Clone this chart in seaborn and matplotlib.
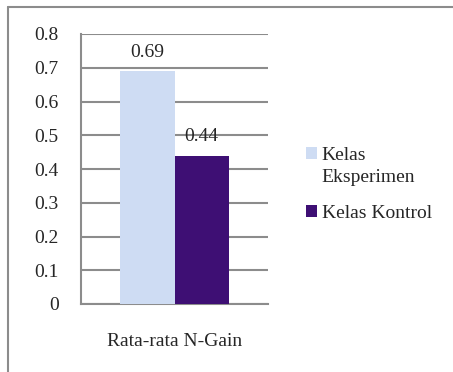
import pandas as pd
import seaborn as sns
import matplotlib.pyplot as plt
from matplotlib.lines import Line2D
from matplotlib.patches import Patch

# data
kategori = ["Rata-rata N-Gain", "Rata-rata N-Gain"]
kelas = ["Kelas Eksperimen", "Kelas Kontrol"]
nilai = [0.69, 0.44]
warna = ["#cedcf3", "#3e0f74"]
yticks = [0, 0.1, 0.2, 0.3, 0.4, 0.5, 0.6, 0.7, 0.8]

df = pd.DataFrame({"kategori": kategori, "kelas": kelas, "nilai": nilai})

sns.set_style("white")
plt.rcParams["font.family"] = ["Liberation Serif", "DejaVu Serif"]
plt.rcParams["font.size"] = 14

fig = plt.figure(figsize=(4.53, 3.72), dpi=100)
W, H = 453, 372
ax = fig.add_axes([81 / W, 1 - 304 / H, 187 / W, 270 / H])

sns.barplot(data=df, x="kategori", y="nilai", hue="kelas", palette=warna,
            width=0.58, saturation=1, ax=ax, legend=False, zorder=3,
            edgecolor="none", linewidth=0)

# label nilai di atas batang
for bar, v in zip(ax.patches, nilai):
    ax.text(bar.get_x() + bar.get_width() / 2, v + 0.043, f"{v:.2f}",
            ha="center", va="baseline", fontsize=14, zorder=4)

ax.set_ylim(0, 0.8)
ax.set_xlim(-0.5, 0.5)
ax.set_yticks(yticks)
ax.set_yticklabels(["0" if t == 0 else f"{t:.1f}" for t in yticks])
ax.yaxis.grid(True, color="#8c8c8c", linewidth=1.5, zorder=0)
ax.set_axisbelow(True)

ax.set_xticks([0])
ax.set_xticklabels(["Rata-rata N-Gain"])
ax.tick_params(axis="x", length=0, pad=21)
ax.set_xticks([-0.5, 0.5], minor=True)
ax.tick_params(axis="x", which="minor", length=5, width=1.5, color="#8c8c8c")
ax.tick_params(axis="y", length=5, width=1.5, color="#8c8c8c", pad=11)
ax.set_xlabel("")
ax.set_ylabel("")

for s in ["top", "right"]:
    ax.spines[s].set_visible(False)
for s in ["left", "bottom"]:
    ax.spines[s].set_color("#8c8c8c")
    ax.spines[s].set_linewidth(1.5)

# legenda: "Kelas Eksperimen" dipecah dua baris, kotak sejajar baris pertama
nama1 = kelas[0].split(" ", 1)
handles = [Patch(facecolor=c, edgecolor="none") for c in warna]
fig.legend(handles, [nama1[0], kelas[1]], loc="center left",
           bbox_to_anchor=(306 / W, 1 - 184.5 / H), frameon=False,
           borderpad=0, borderaxespad=0,
           handlelength=0.55, handleheight=0.55, handletextpad=0.25,
           labelspacing=2.1, fontsize=14)
fig.text(321.5 / W, 1 - 182 / H, nama1[1], ha="left", va="baseline", fontsize=14)

# bingkai luar
fig.add_artist(Line2D([8 / W, 8 / W], [0, 1 - 7 / H], color="#8c8c8c", lw=1.5))
fig.add_artist(Line2D([8 / W, 1], [1 - 7 / H, 1 - 7 / H], color="#8c8c8c", lw=1.5))

fig.savefig("out.png", dpi=100)
